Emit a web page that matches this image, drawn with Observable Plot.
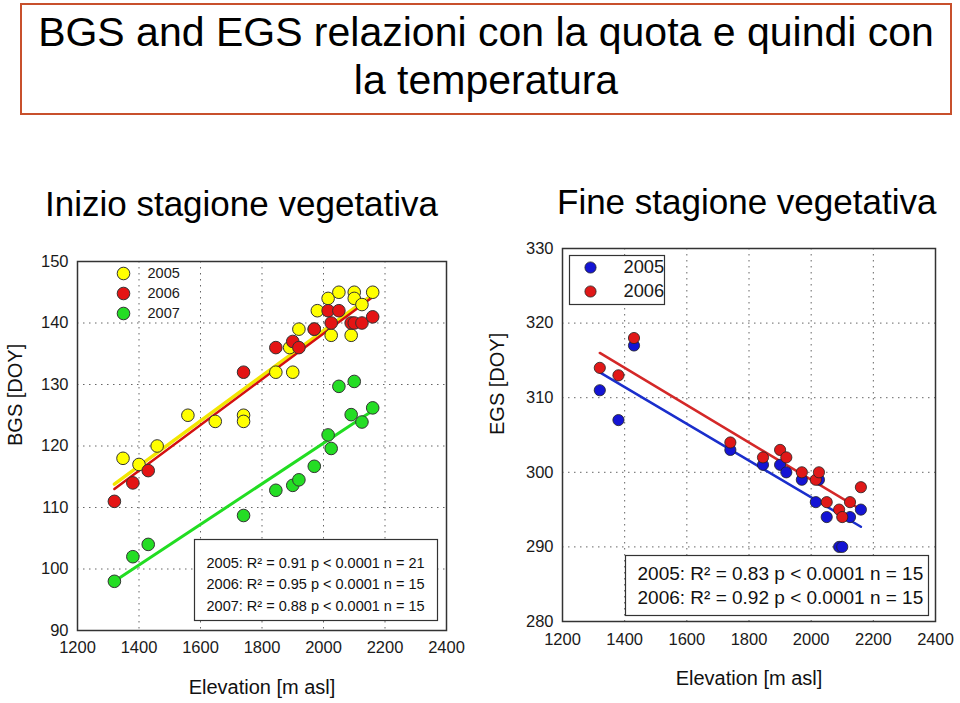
<!DOCTYPE html>
<html>
<head>
<meta charset="utf-8">
<script src="https://cdn.jsdelivr.net/npm/d3@7"></script>
<script src="https://cdn.jsdelivr.net/npm/@observablehq/plot@0.6"></script>
<style>
  html, body { margin: 0; padding: 0; background: #fff; }
  body { width: 960px; height: 703px; position: relative; overflow: hidden;
         font-family: "Liberation Sans", Arial, Helvetica, sans-serif; color: #000; }
  .titlebox { position: absolute; left: 20px; top: 3px; width: 928px; height: 108px;
              border: 2px solid #c8502c; }
  .tline { position: absolute; left: 20px; width: 932px; text-align: center;
           font-size: 41px; line-height: 46px; white-space: nowrap; }
  .sub { position: absolute; font-size: 35px; line-height: 40px; white-space: nowrap; }
  .chart { position: absolute; }
</style>
</head>
<body>
<div class="titlebox"></div>
<div class="tline" style="top:9px">BGS and EGS relazioni con la quota e quindi con</div>
<div class="tline" style="top:57px">la temperatura</div>
<div class="sub" style="left:45px; top:184px">Inizio stagione vegetativa</div>
<div class="sub" style="left:557px; top:182px">Fine stagione vegetativa</div>
<div id="left" class="chart" style="left:0px; top:240px"></div>
<div id="right" class="chart" style="left:480px; top:230px"></div>
<script>
// ---------- data: BGS (start of growing season, DOY) ----------
const bgs2005Elev = [1348, 1400, 1459, 1559, 1648, 1740, 1740, 1845, 1900, 1890, 1920, 1980, 2015, 2050, 2025, 2090, 2100, 2100, 2125, 2160, 1970];
const bgs2005Doy  = [118, 117, 120, 125, 124, 125, 124, 132, 132, 136, 139, 142, 144, 145, 138, 138, 145, 144, 143, 145, 139];
const bgs2006Elev = [1320, 1380, 1430, 1740, 1845, 1900, 1920, 1970, 2015, 2050, 2025, 2090, 2100, 2125, 2160];
const bgs2006Doy  = [111, 114, 116, 132, 136, 137, 136, 139, 142, 142, 140, 140, 140, 140, 141];
const bgs2007Elev = [1320, 1380, 1430, 1740, 1845, 1900, 1920, 1970, 2015, 2025, 2050, 2100, 2090, 2125, 2160];
const bgs2007Doy  = [98, 102, 104, 108.7, 112.8, 113.6, 114.5, 116.7, 121.8, 119.6, 129.7, 130.5, 125.1, 123.9, 126.2];
// fitted regression lines (end points)
const bgsFitElev = [1320, 2162];
const bgsFit2005 = [113.8, 144.7];
const bgsFit2006 = [113.0, 144.3];
const bgsFit2007 = [98.0, 125.8];
const bgsStats = [
  "2005: R\u00B2 = 0.91 p < 0.0001 n = 21",
  "2006: R\u00B2 = 0.95 p < 0.0001 n = 15",
  "2007: R\u00B2 = 0.88 p < 0.0001 n = 15"
];
const bgsYears = ["2005", "2006", "2007"];

// ---------- data: EGS (end of growing season, DOY) ----------
const egs2005Elev = [1320, 1380, 1430, 1740, 1845, 1900, 1920, 1970, 2025, 2015, 2050, 2090, 2100, 2125, 2160];
const egs2005Doy  = [311, 307, 317, 303, 301, 301, 300, 299, 299, 296, 294, 290, 290, 294, 295];
const egs2006Elev = [1320, 1380, 1430, 1740, 1845, 1900, 1920, 1970, 2015, 2025, 2050, 2090, 2100, 2125, 2160];
const egs2006Doy  = [314, 313, 318, 304, 302, 303, 302, 300, 299, 300, 296, 295, 294, 296, 298];
const egsFitElev = [1320, 2160];
const egsFit2005 = [313.4, 292.7];
const egsFit2006 = [316.0, 295.0];
const egsStats = [
  "2005: R\u00B2 = 0.83 p < 0.0001 n = 15",
  "2006: R\u00B2 = 0.92 p < 0.0001 n = 15"
];
const egsYears = ["2005", "2006"];

// ---------- tick labels ----------
const elevTicks = [1200, 1400, 1600, 1800, 2000, 2200, 2400];
const bgsTicks = [90, 100, 110, 120, 130, 140, 150];
const egsTicks = [280, 290, 300, 310, 320, 330];

const pts = (xs, ys) => xs.map((x, i) => ({x, y: ys[i]}));

const FONT = '"Liberation Sans", Arial, Helvetica, sans-serif';
const gridStyle = {stroke: "#666", strokeWidth: 1, strokeDasharray: "1.5,4.5"};
const inner = (t, lo, hi) => t.filter(d => d > lo && d < hi);

// ---------- left chart ----------
const cYellow = "#ffff00", cRed = "#e41414", cGreen = "#24dd24";
const leftColors = [cYellow, cRed, cGreen];
const left = Plot.plot({
  width: 480, height: 463,
  marginLeft: 77, marginRight: 34, marginTop: 21, marginBottom: 73,
  style: {fontFamily: FONT, fontSize: "16.5px", color: "#1a1a1a", background: "#fff", overflow: "visible"},
  x: {domain: [1200, 2400], ticks: elevTicks, tickFormat: d => String(d), tickSize: 0, tickPadding: 11, label: null},
  y: {domain: [90, 150], ticks: bgsTicks, tickFormat: d => String(d), tickSize: 0, tickPadding: 9, label: null},
  marks: [
    Plot.ruleX(inner(elevTicks, 1200, 2400), gridStyle),
    Plot.ruleY(inner(bgsTicks, 90, 150), gridStyle),
    Plot.line(pts(bgsFitElev, bgsFit2007), {x: "x", y: "y", stroke: "#22dd22", strokeWidth: 3}),
    Plot.line(pts(bgsFitElev, bgsFit2005), {x: "x", y: "y", stroke: "#f2e600", strokeWidth: 3.5}),
    Plot.line(pts(bgsFitElev, bgsFit2006), {x: "x", y: "y", stroke: "#d41010", strokeWidth: 2.5}),
    Plot.dot(pts(bgs2005Elev, bgs2005Doy), {x: "x", y: "y", r: 6.3, fill: cYellow, stroke: "#333", strokeWidth: 1}),
    Plot.dot(pts(bgs2006Elev, bgs2006Doy), {x: "x", y: "y", r: 6.3, fill: cRed, stroke: "#333", strokeWidth: 1}),
    Plot.dot(pts(bgs2007Elev, bgs2007Doy), {x: "x", y: "y", r: 6.3, fill: cGreen, stroke: "#333", strokeWidth: 1}),
    Plot.frame({stroke: "#333", strokeWidth: 1.5}),
    // legend
    ...bgsYears.flatMap((yr, i) => [
      Plot.dot([yr], {frameAnchor: "top-left", dx: 46, dy: 12 + 20 * i, r: 6.3, fill: leftColors[i], stroke: "#333", strokeWidth: 1}),
      Plot.text([yr], {frameAnchor: "top-left", dx: 70, dy: 12 + 20 * i, textAnchor: "start", lineAnchor: "middle", fontSize: 14.5, fill: "#1a1a1a"})
    ]),
    // statistics box
    Plot.frame({insetLeft: 117, insetRight: 9, insetTop: 278, insetBottom: 10, fill: "#fff", stroke: "#333", strokeWidth: 1.2}),
    Plot.text([bgsStats.join("\n")], {frameAnchor: "bottom-right", dx: -240, dy: -48, textAnchor: "start", lineAnchor: "middle", lineHeight: 1.48, fontSize: 14.5, fill: "#111"}),
    // axis labels
    Plot.text(["Elevation [m asl]"], {frameAnchor: "bottom", dy: 57, lineAnchor: "middle", fontSize: 20, fill: "#111"}),
    Plot.text(["BGS [DOY]"], {frameAnchor: "left", dx: -62, rotate: -90, lineAnchor: "middle", fontSize: 20, fill: "#111"})
  ]
});
document.getElementById("left").appendChild(left);

// ---------- right chart ----------
const cBlue = "#1414d4", cRed2 = "#e01818";
const rightColors = [cBlue, cRed2];
const right = Plot.plot({
  width: 480, height: 473,
  marginLeft: 82, marginRight: 25, marginTop: 18, marginBottom: 82,
  style: {fontFamily: FONT, fontSize: "16.5px", color: "#1a1a1a", background: "#fff", overflow: "visible"},
  x: {domain: [1200, 2400], ticks: elevTicks, tickFormat: d => String(d), tickSize: 0, tickPadding: 12, label: null},
  y: {domain: [280, 330], ticks: egsTicks, tickFormat: d => String(d), tickSize: 0, tickPadding: 9, label: null},
  marks: [
    Plot.ruleX(inner(elevTicks, 1200, 2400), gridStyle),
    Plot.ruleY(inner(egsTicks, 280, 330), gridStyle),
    Plot.line(pts(egsFitElev, egsFit2005), {x: "x", y: "y", stroke: "#1a2ecc", strokeWidth: 2.5}),
    Plot.line(pts(egsFitElev, egsFit2006), {x: "x", y: "y", stroke: "#d42828", strokeWidth: 2.5}),
    Plot.dot(pts(egs2005Elev, egs2005Doy), {x: "x", y: "y", r: 5.6, fill: cBlue, stroke: "#222", strokeWidth: 0.8}),
    Plot.dot(pts(egs2006Elev, egs2006Doy), {x: "x", y: "y", r: 5.6, fill: cRed2, stroke: "#222", strokeWidth: 0.8}),
    Plot.frame({stroke: "#333", strokeWidth: 1.5}),
    // legend
    Plot.frame({insetLeft: 7, insetRight: 271, insetTop: 7, insetBottom: 317, fill: "#fff", stroke: "#333", strokeWidth: 1.2}),
    ...egsYears.flatMap((yr, i) => [
      Plot.dot([yr], {frameAnchor: "top-left", dx: 28, dy: 19 + 24 * i, r: 5.6, fill: rightColors[i], stroke: "#222", strokeWidth: 0.8}),
      Plot.text([yr], {frameAnchor: "top-left", dx: 61, dy: 19 + 24 * i, textAnchor: "start", lineAnchor: "middle", fontSize: 18.3, fill: "#1a1a1a"})
    ]),
    // statistics box
    Plot.frame({insetLeft: 63, insetRight: 7, insetTop: 307, insetBottom: 6, fill: "#fff", stroke: "#333", strokeWidth: 1.2}),
    Plot.text([egsStats.join("\n")], {frameAnchor: "bottom-right", dx: -298, dy: -37, textAnchor: "start", lineAnchor: "middle", lineHeight: 1.26, fontSize: 19, fill: "#111"}),
    // axis labels
    Plot.text(["Elevation [m asl]"], {frameAnchor: "bottom", dy: 57, lineAnchor: "middle", fontSize: 20, fill: "#111"}),
    Plot.text(["EGS [DOY]"], {frameAnchor: "left", dx: -65, rotate: -90, lineAnchor: "middle", fontSize: 20, fill: "#111"})
  ]
});
document.getElementById("right").appendChild(right);
</script>
</body>
</html>
